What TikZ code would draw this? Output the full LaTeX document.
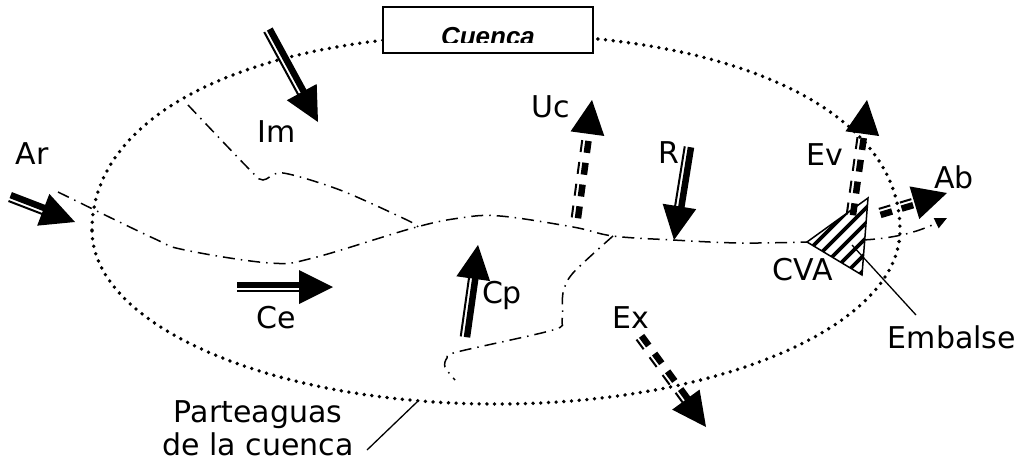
\documentclass[tikz,border=0pt]{standalone}
\usepackage{fontspec}
\setmainfont{DejaVu Sans}
\newfontfamily\cuencafont{Liberation Sans}
\usetikzlibrary{calc,arrows.meta}
% #1 tail, #2 tip, #3 thin-line side angle, #4 thick-line side angle, #5 shaft style
\newcommand\flowarr[5]{%
  \path ($(#2)!34pt!(#1)$) coordinate (fa-base) ($(#2)!30pt!(#1)$) coordinate (fa-end);
  \fill (#2) -- ($(fa-base)!17pt!90:(#2)$) -- ($(fa-base)!17pt!-90:(#2)$) -- cycle;
  \draw[line width=6.5pt,#5] ($(#1)!2pt!#4:(#2)$) -- ($(fa-end)!2pt!#4:(#2)$);
  \draw[line width=2pt,#5] ($(#1)!4.3pt!#3:(#2)$) -- ($(fa-end)!4.3pt!#3:(#2)$);
}
\begin{document}
\begin{tikzpicture}[x=1pt,y=-1pt,
  lbl/.style={font=\fontsize{30}{34}\selectfont, inner sep=0pt, anchor=base},
  divide/.style={line width=3.8pt, line cap=round, dash pattern=on 0pt off 7.7pt},
  river/.style={line width=1.5pt, dash pattern=on 12pt off 6pt on 1.5pt off 6pt},
  leader/.style={line width=1.3pt},
  dashshaft/.style={dash pattern=on 12pt off 10pt}]
\useasboundingbox (0,0) rectangle (1021,466);
% watershed divide
\coordinate (dv-l) at (92,230);
\coordinate (dv-t) at (496,34);
\coordinate (dv-r) at (900,230);
\coordinate (dv-b) at (496,404);
\draw[divide] (dv-l) .. controls (92,112) and (254,34) .. (dv-t)
  .. controls (738,34) and (900,112) .. (dv-r)
  .. controls (900,326) and (719,404) .. (dv-b)
  .. controls (273,404) and (92,326) .. (dv-l);
% title box
\node[draw, line width=1.6pt, fill=white, minimum width=210pt, minimum height=46pt, inner sep=0pt] (box) at (488,30) {};
\begin{scope}
  \clip (385,9) rectangle (591,42.5);
  \node[inner sep=0pt, anchor=base, font=\cuencafont\bfseries\itshape\fontsize{26}{30}\selectfont] (cuenca) at (488,45) {Cuenca};
\end{scope}
% river network
\draw[river] plot[smooth, tension=0.6] coordinates {(58,192) (153,238) (185,250) (270,263) (313,258) (413,228) (460,218) (500,216) (573,227) (613,236) (673,240) (740,243) (807,242)};
\draw[river] plot[smooth, tension=0.5] coordinates {(188,105) (250,170) (263,180) (283,173) (340,190) (407,220) (418,227)};
\draw[river] plot[smooth, tension=0.5] coordinates {(613,236) (573,273) (563,293) (562,320) (553,330) (457,352) (447,358) (445,367) (455,380)};
\coordinate (out-s) at (863,240);
\coordinate (out-e) at (947,218);
\draw[river, -{Triangle[length=12pt,width=11pt]}] (out-s) .. controls (900,238) and (922,230) .. (out-e);
% reservoir
\coordinate (tA) at (807,242);
\coordinate (tB) at (868,198);
\coordinate (tC) at (862,275);
\begin{scope}
  \clip (tA) -- (tB) -- (tC) -- cycle;
  \foreach \k in {0,...,14} \draw[line width=3.6pt] (684+15*\k,300) -- ++(120,-120);
\end{scope}
\draw[line width=1.5pt, line join=miter] (tA) -- (tB) -- (tC) -- cycle;
% flows
\coordinate (ar-t) at (10,197);  \coordinate (ar-h) at (75,222);
\coordinate (im-t) at (268,30);  \coordinate (im-h) at (318,122);
\coordinate (r-t) at (689,147);  \coordinate (r-h) at (674,240);
\coordinate (ce-t) at (237,287); \coordinate (ce-h) at (333,287);
\coordinate (cp-t) at (465,337); \coordinate (cp-h) at (478,245);
\coordinate (uc-t) at (576,218); \coordinate (uc-h) at (592,100);
\coordinate (ev-t) at (851,215); \coordinate (ev-h) at (867,100);
\coordinate (ab-t) at (880,213); \coordinate (ab-h) at (947,193);
\coordinate (ex-t) at (640,337); \coordinate (ex-h) at (706,427);
\flowarr{ar-t}{ar-h}{-90}{90}{}
\flowarr{im-t}{im-h}{-90}{90}{}
\flowarr{r-t}{r-h}{-90}{90}{}
\flowarr{ce-t}{ce-h}{-90}{90}{}
\flowarr{cp-t}{cp-h}{90}{-90}{}
\flowarr{uc-t}{uc-h}{90}{-90}{dashshaft}
\flowarr{ev-t}{ev-h}{90}{-90}{dashshaft}
\flowarr{ab-t}{ab-h}{90}{-90}{dashshaft}
\flowarr{ex-t}{ex-h}{-90}{90}{dashshaft}
% labels
\node[lbl] (ar) at (32,164) {Ar};
\node[lbl] (im) at (277,142) {Im};
\node[lbl] (uc) at (551,117) {Uc};
\node[lbl] (r) at (669,163) {R};
\node[lbl] (ev) at (825,165) {Ev};
\node[lbl] (ab) at (954,188) {Ab};
\node[lbl] (cva) at (803,280) {CVA};
\node[lbl] (ce) at (276,328) {Ce};
\node[lbl] (cp) at (502,303) {Cp};
\node[lbl] (ex) at (631,328) {Ex};
\node[lbl] (emb) at (952,348) {Embalse};
\node[lbl] (part1) at (258,422) {Parteaguas};
\node[lbl] (part2) at (258,455) {de la cuenca};
% leaders
\coordinate (emb-a) at (916,315);
\coordinate (emb-b) at (852,245);
\draw[leader] (emb-a) -- (emb-b);
\coordinate (div-a) at (367,450);
\coordinate (div-b) at (417,402);
\draw[leader] (div-a) -- (div-b);
\end{tikzpicture}
\end{document}
